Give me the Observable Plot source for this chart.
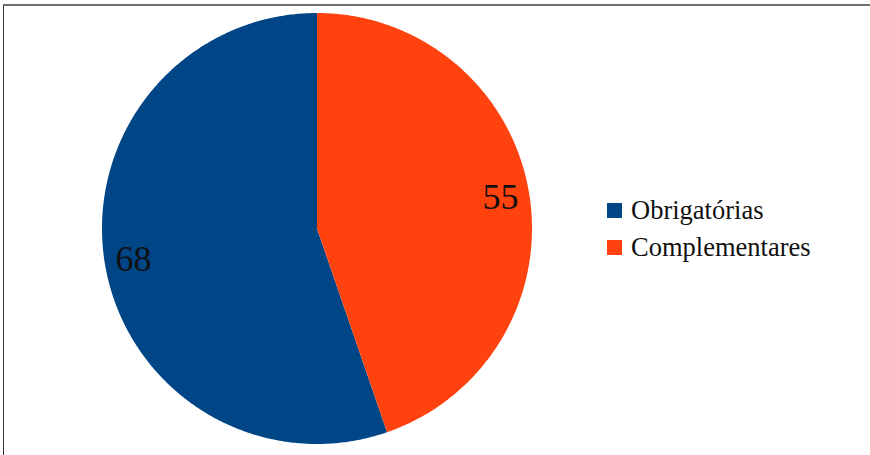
<!DOCTYPE html>
<html>
<head>
<meta charset="utf-8">
<script src="https://cdn.jsdelivr.net/npm/d3@7"></script>
<script src="https://cdn.jsdelivr.net/npm/@observablehq/plot@0.6"></script>
<style>
  html, body { margin: 0; padding: 0; background: #fff; }
  #wrap { position: relative; width: 870px; height: 455px; overflow: hidden; }
  #frame { position: absolute; left: 3px; top: 4px; width: 870px; height: 460px;
           border-top: 2px solid #707070; border-left: 1px solid #333; box-sizing: border-box; }
  #chart { position: absolute; left: 0; top: 0; }
  #legend { position: absolute; left: 607px; top: 192px; font-family: "Liberation Serif", serif;
            font-size: 26.5px; color: #111; }
  .row { display: flex; align-items: center; height: 37px; }
  .sw { width: 15px; height: 15px; margin-right: 9px; }
</style>
</head>
<body>
<div id="wrap">
  <div id="frame"></div>
  <div id="chart"></div>
  <div id="legend"></div>
</div>
<script>
const categories = ["Obrigatórias", "Complementares"];
const values = [68, 55];
const colors = ["#004586", "#ff420e"];

// pie geometry (first slice counter‑clockwise from 12 o'clock)
const arcs = d3.pie().sort(null)(values);
const pts = [];
const labels = [];
arcs.forEach((a, i) => {
  const cat = categories[i];
  pts.push({cat, x: 0, y: 0});
  const n = Math.max(2, Math.ceil((a.endAngle - a.startAngle) / (Math.PI / 360)));
  for (let k = 0; k <= n; k++) {
    const t = a.startAngle + (a.endAngle - a.startAngle) * k / n;
    pts.push({cat, x: -Math.sin(t), y: Math.cos(t)});
  }
  const m = (a.startAngle + a.endAngle) / 2;
  labels.push({cat, value: values[i], x: -Math.sin(m) * 0.865, y: Math.cos(m) * 0.865});
});

const chart = Plot.plot({
  width: 870,
  height: 455,
  marginLeft: 101.5,
  marginRight: 338.5,
  marginTop: 12.5,
  marginBottom: 11.5,
  x: {domain: [-1, 1], axis: null},
  y: {domain: [-1, 1], axis: null},
  color: {domain: categories, range: colors},
  style: {background: "transparent"},
  marks: [
    Plot.line(pts, {x: "x", y: "y", z: "cat", fill: "cat", stroke: "none", curve: "linear"}),
    Plot.text(labels, {x: "x", y: "y", text: d => String(d.value), fontSize: 36,
      fontFamily: "Liberation Serif", fill: "#111"})
  ]
});
document.getElementById("chart").appendChild(chart);

const legend = document.getElementById("legend");
categories.forEach((c, i) => {
  const row = document.createElement("div");
  row.className = "row";
  const sw = document.createElement("div");
  sw.className = "sw";
  sw.style.background = colors[i];
  const tx = document.createElement("span");
  tx.textContent = c;
  row.appendChild(sw);
  row.appendChild(tx);
  legend.appendChild(row);
});
</script>
</body>
</html>
